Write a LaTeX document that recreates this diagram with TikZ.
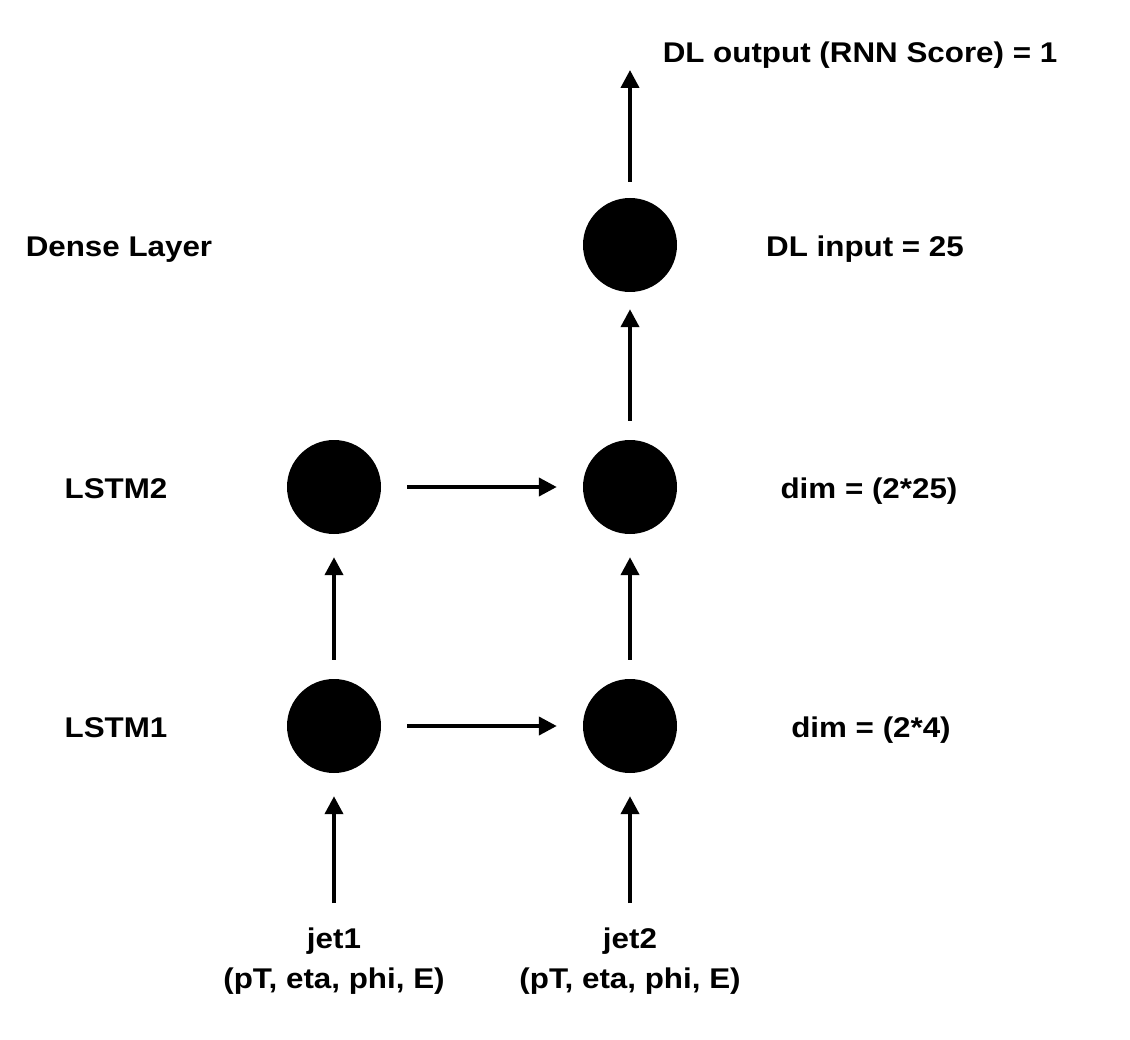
\documentclass[tikz,border=0pt]{standalone}
\usepackage{fontspec}
\setmainfont{Liberation Sans}[FakeStretch=1.1]
\usetikzlibrary{arrows.meta}
\begin{document}
\begin{tikzpicture}[x=1pt,y=-1pt,
  neuron/.style={circle,fill=black,draw=none,minimum size=94pt,inner sep=0pt},
  lbl/.style={anchor=base,inner sep=0pt,font=\fontsize{28.5}{34}\selectfont\bfseries},
  arr/.style={line width=4pt,-{Triangle[length=18pt,width=18pt]}}]
\useasboundingbox (0,0) rectangle (1130,1040);
% neurons
\node[neuron] (l1a) at (334,726) {};
\node[neuron] (l1b) at (630,726) {};
\node[neuron] (l2a) at (334,487) {};
\node[neuron] (l2b) at (630,487) {};
\node[neuron] (dense) at (630,245) {};
% labels
\node[lbl] (tout) at (860,63) {DL output (RNN Score) = 1};
\node[lbl] (tdense) at (119,257) {Dense Layer};
\node[lbl] (tdin) at (865,257) {DL input = 25};
\node[lbl] (tl2) at (116,498) {LSTM2};
\node[lbl] (td2) at (869,498) {dim = (2*25)};
\node[lbl] (tl1) at (116,737) {LSTM1};
\node[lbl] (td1) at (871,737) {dim = (2*4)};
\node[lbl] (jet1) at (334,948) {jet1};
\node[lbl] (jet1v) at (334,988) {(pT, eta, phi, E)};
\node[lbl] (jet2) at (630,948) {jet2};
\node[lbl] (jet2v) at (630,988) {(pT, eta, phi, E)};
% connector ends
\coordinate (j1s) at (334,903);
\coordinate (j2s) at (630,903);
\coordinate (outend) at (630,70);
% arrows
\draw[arr,shorten >=23pt] (j1s) -- (l1a);
\draw[arr,shorten >=23pt] (j2s) -- (l1b);
\draw[arr,shorten <=19pt,shorten >=23pt] (l1a) -- (l2a);
\draw[arr,shorten <=19pt,shorten >=23pt] (l1b) -- (l2b);
\draw[arr,shorten <=26pt,shorten >=26pt] (l1a) -- (l1b);
\draw[arr,shorten <=26pt,shorten >=26pt] (l2a) -- (l2b);
\draw[arr,shorten <=19pt,shorten >=17pt] (l2b) -- (dense);
\draw[arr,shorten <=16pt] (dense) -- (outend);
\end{tikzpicture}
\end{document}
